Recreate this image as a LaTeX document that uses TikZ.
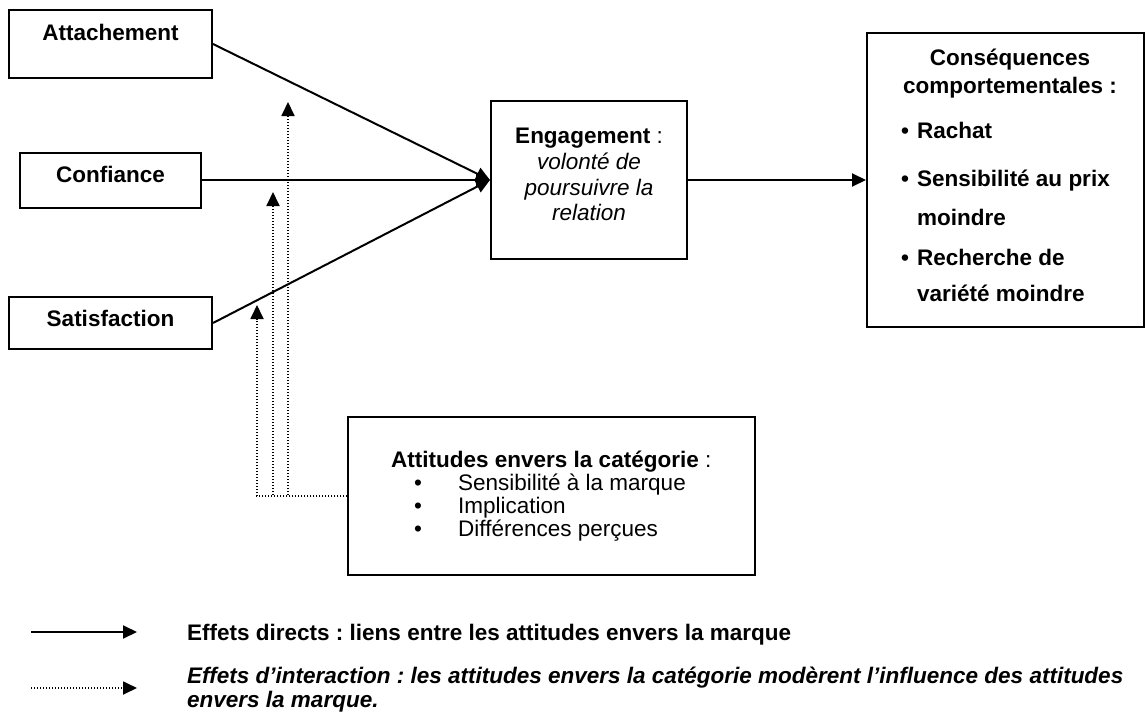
\documentclass[tikz,border=0pt]{standalone}
\usepackage{fontspec}
\setmainfont{Liberation Sans}
\usetikzlibrary{arrows.meta}
\frenchspacing
\begin{document}
\begin{tikzpicture}[x=1pt,y=-1pt,
  box/.style={draw,line width=2pt,inner sep=0pt},
  t/.style={inner sep=0pt,text height=16pt,text depth=0pt,font=\fontsize{22.5}{27}\selectfont},
  tb/.style={inner sep=0pt,text height=16pt,text depth=0pt,font=\fontsize{22.5}{27}\selectfont\bfseries},
  direct/.style={line width=2pt,-{Triangle[length=14pt,width=13pt]}},
  inter/.style={line width=1.8pt,dash pattern=on 1.3pt off 1.7pt},
  interarr/.style={inter,-{Triangle[length=14pt,width=13pt]}}]
\useasboundingbox (0,0) rectangle (1146,715);

% boxes
\node[box,minimum width=203pt,minimum height=68pt] (attb) at (110.5,44) {};
\node[box,minimum width=181pt,minimum height=55pt] (conb) at (110.5,180) {};
\node[box,minimum width=203pt,minimum height=52pt] (satb) at (110.5,323) {};
\node[box,minimum width=196pt,minimum height=158pt] (eng) at (589,180) {};
\node[box,minimum width=277pt,minimum height=294pt] (cons) at (1005.5,180) {};
\node[box,minimum width=407pt,minimum height=158pt] (att) at (551.5,496) {};

% box texts
\node[tb] (tatt) at (110.5,32) {Attachement};
\node[tb] (tcon) at (110.5,174) {Confiance};
\node[tb] (tsat) at (110.5,318) {Satisfaction};

\node[t] (e1) at (589,135) {\textbf{Engagement} :};
\node[t,font=\fontsize{22.5}{27}\selectfont\itshape] (e2) at (589,161) {volonté de};
\node[t,font=\fontsize{22.5}{27}\selectfont\itshape] (e3) at (589,187) {poursuivre la};
\node[t,font=\fontsize{22.5}{27}\selectfont\itshape] (e4) at (589,212) {relation};

\node[tb] (c1) at (1010,57) {Conséquences};
\node[tb] (c2) at (1010,85) {comportementales :};
\node[tb] (b1) at (905,130) {\textbullet};
\node[tb,anchor=west] (c3) at (917,130) {Rachat};
\node[tb] (b2) at (905,178) {\textbullet};
\node[tb,anchor=west] (c4) at (917,178) {Sensibilité au prix};
\node[tb,anchor=west] (c5) at (917,217) {moindre};
\node[tb] (b3) at (905,257) {\textbullet};
\node[tb,anchor=west] (c6) at (917,257) {Recherche de};
\node[tb,anchor=west] (c7) at (917,293) {variété moindre};

\node[t,anchor=west] (a0) at (391,459) {\textbf{Attitudes envers la catégorie} :};
\node[t] (ab1) at (418,482) {\textbullet};
\node[t,anchor=west] (a1) at (458,482) {Sensibilité à la marque};
\node[t] (ab2) at (418,505) {\textbullet};
\node[t,anchor=west] (a2) at (458,505) {Implication};
\node[t] (ab3) at (418,528) {\textbullet};
\node[t,anchor=west] (a3) at (458,528) {Différences perçues};

% direct arrows
\draw[direct] (attb.east) -- (eng.west);
\draw[direct] (conb.east) -- (eng.west);
\draw[direct] (satb.east) -- (eng.west);
\draw[direct] (eng.east) -- (cons.west);

% interaction arrows
\coordinate (p1) at (257,305);
\coordinate (p2) at (273,192);
\coordinate (p3) at (288,102);
\draw[interarr] (att.west) -| (p1);
\draw[interarr] (att.west) -| (p2);
\draw[interarr] (att.west) -| (p3);

% legend
\coordinate (l1a) at (31,632);
\coordinate (l1b) at (137,632);
\coordinate (l2a) at (31,688);
\coordinate (l2b) at (137,688);
\draw[direct] (l1a) -- (l1b);
\draw[interarr] (l2a) -- (l2b);
\node[tb,anchor=west] (g1) at (187,632) {Effets directs : liens entre les attitudes envers la marque};
\node[tb,anchor=west,font=\fontsize{22.5}{27}\selectfont\bfseries\itshape] (g2) at (187,675) {Effets d’interaction : les attitudes envers la catégorie modèrent l’influence des attitudes};
\node[tb,anchor=west,font=\fontsize{22.5}{27}\selectfont\bfseries\itshape] (g3) at (187,699) {envers la marque.};
\end{tikzpicture}
\end{document}
